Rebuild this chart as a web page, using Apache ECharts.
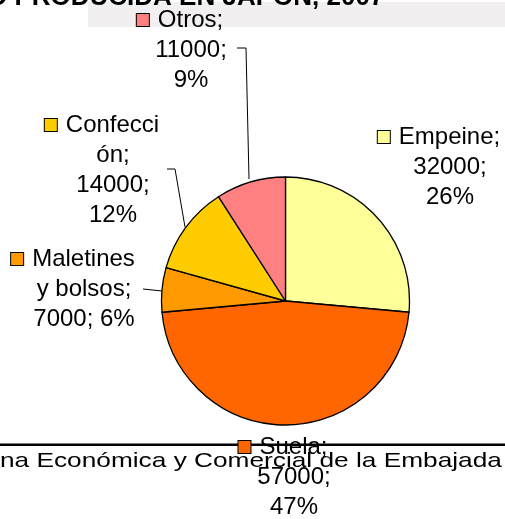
<!DOCTYPE html>
<html>
<head>
<meta charset="utf-8">
<script src="https://cdn.jsdelivr.net/npm/echarts@6/dist/echarts.min.js"></script>
<style>
  html, body { margin: 0; padding: 0; background: #fff; }
  #chart { width: 505px; height: 519px; }
</style>
</head>
<body>
<div id="chart"></div>
<script>
// datos del grafico
var categories = ['Empeine', 'Suela', 'Maletines y bolsos', 'Confección', 'Otros'];
var values = [32000, 57000, 7000, 14000, 11000];
var colors = ['#FFFF99', '#FF6600', '#FF9900', '#FFCC00', '#FF8080'];

// posicion de cada etiqueta (centro del bloque de texto)
var labelPos = [[450, 167], [294, 477], [84, 289], [113, 170], [191, 50]];
// lineas guia (solo para tres porciones)
var guideLines = [null, null,
  [[143, 289], [162, 291]],
  [[167, 169], [175, 169], [185, 227]],
  [[237, 48], [246, 48], [249, 179]]];

var chart = echarts.init(document.getElementById('chart'));

function labelText(p) {
  var i = p.dataIndex;
  var pct = Math.round(p.percent);
  var head = '{box' + i + '|}{gap|}';
  if (p.name === 'Maletines y bolsos') {
    return head + 'Maletines{pad|}\ny bolsos;\n' + p.value + '; ' + pct + '%';
  }
  if (p.name === 'Confección') {
    return head + 'Confecci{pad|}\nón;\n' + p.value + ';\n' + pct + '%';
  }
  return head + p.name + ';{pad|}\n' + p.value + ';\n' + pct + '%';
}

var rich = {
  gap: { width: 9, lineHeight: 30 },
  pad: { width: 22, lineHeight: 30 }
};
colors.forEach(function (c, i) {
  rich['box' + i] = {
    width: 12, height: 12,
    backgroundColor: c,
    borderColor: '#000',
    borderWidth: 1,
    lineHeight: 30
  };
});

var data = categories.map(function (name, i) {
  return {
    name: name,
    value: values[i],
    itemStyle: { color: colors[i] },
    labelLine: { show: guideLines[i] != null }
  };
});

var option = {
  animation: false,
  backgroundColor: '#fff',
  graphic: [
    {
      type: 'rect', z: -2,
      shape: { x: 88, y: 2, width: 417, height: 25 },
      style: { fill: '#f2eff0' }
    },
    {
      type: 'text', z: -1, x: -13, y: -2,
      style: {
        text: 'O PRODUCIDA EN JAPÓN, 2007',
        font: 'bold 26px "Liberation Sans", Arial, sans-serif',
        fill: '#000',
        verticalAlign: 'middle'
      }
    },
    {
      type: 'rect', z: -1,
      shape: { x: 0, y: 443.5, width: 505, height: 2.5 },
      style: { fill: '#000' }
    },
    {
      type: 'text', z: -1, x: 0, y: 461, scaleX: 1.25,
      style: {
        text: 'na Económica y Comercial de la Embajada',
        font: '21px "Liberation Sans", Arial, sans-serif',
        fill: '#000',
        verticalAlign: 'middle'
      }
    }
  ],
  series: [
    {
      type: 'pie',
      center: [285.5, 301],
      radius: 124,
      startAngle: 90,
      clockwise: true,
      itemStyle: { borderColor: '#000', borderWidth: 1.3 },
      emphasis: { disabled: true },
      label: {
        show: true,
        position: 'outside',
        formatter: labelText,
        color: '#000',
        fontFamily: '"Liberation Sans", Arial, sans-serif',
        fontSize: 24,
        lineHeight: 30,
        align: 'center',
        overflow: 'none',
        width: 200,
        rich: rich
      },
      labelLine: {
        length: 8,
        length2: 8,
        lineStyle: { color: '#000', width: 1 }
      },
      labelLayout: function (params) {
        var i = params.dataIndex;
        var out = {
          x: labelPos[i][0],
          y: labelPos[i][1],
          align: 'center',
          verticalAlign: 'middle'
        };
        if (guideLines[i]) out.labelLinePoints = guideLines[i];
        return out;
      },
      data: data
    }
  ]
};

chart.setOption(option);
</script>
</body>
</html>
